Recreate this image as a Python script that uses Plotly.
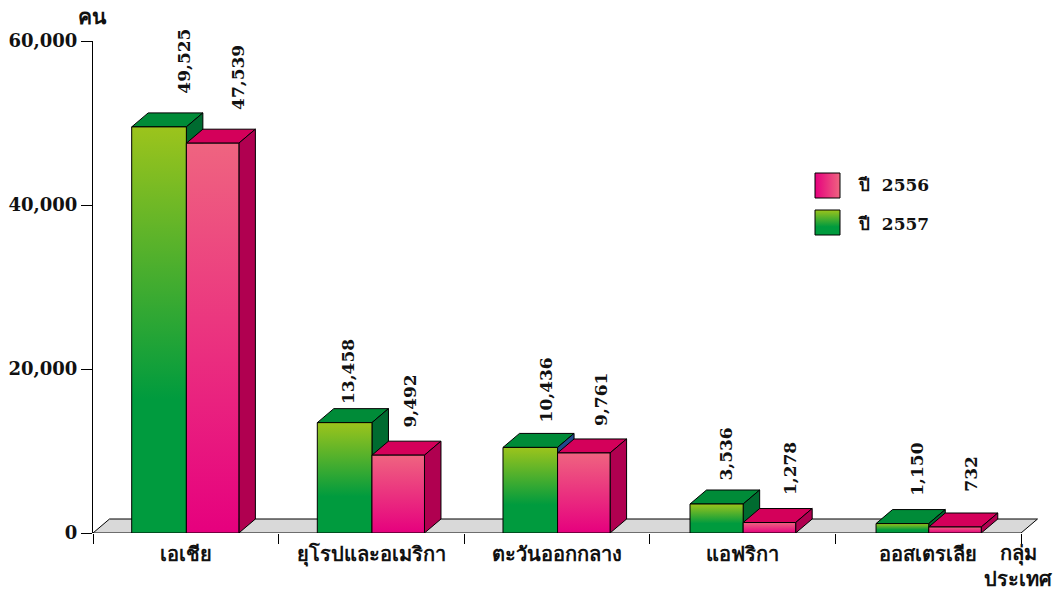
import plotly.graph_objects as go

categories = ["เอเชีย", "ยุโรปและอเมริกา", "ตะวันออกกลาง", "แอฟริกา", "ออสเตรเลีย"]
values_2557 = [49525, 13458, 10436, 3536, 1150]
values_2556 = [47539, 9492, 9761, 1278, 732]
series_names = ["ปี \u00a02556", "ปี \u00a02557"]

# layout nudges (manual placement in the original)
bar_start = [0.2085, 0.2085, 0.209, 0.2166, 0.219]
label_dx_2557 = [25, 3, 15, 9, 15]
label_dx_2556 = [24, 11, 17, 20, 15]
label_gap_2557 = [31, 17, 23, 21, 26]
label_gap_2556 = [31, 26, 25, 25, 33]
side_2557 = ["#006B30", "#006B30", "#1F4A8C", "#006B30", "#006B30"]

W, H = 1056, 592
L, T, B = 93, 41, 59
R = 16
YMAX = 60000
PX_X = 928 / 5
PX_Y = (H - T - B) / YMAX
DX = 16.5 / PX_X
DY = 14 / PX_Y
PLOT_W = W - L - R
PLOT_H = H - T - B

FONT = "'DejaVu Serif', 'Noto Sans', serif"
GREEN = [[0, "#009B3E"], [0.33, "#009B3E"], [1, "#9CC41C"]]
PINK = [[0, "#E6007E"], [1, "#EF6480"]]


def poly(fig, xs, ys, color=None, grad=None, width=1, lc="#000000"):
    kw = dict(fillcolor=color) if color else dict(fillgradient=grad)
    fig.add_trace(go.Scatter(
        x=xs + xs[:1], y=ys + ys[:1], mode="lines", fill="toself",
        line=dict(color=lc, width=width), hoverinfo="skip",
        showlegend=False, cliponaxis=False, **kw))


def bar3d(fig, x0, x1, v, scale, top, side):
    poly(fig, [x0, x0 + DX, x1 + DX, x1], [v, v + DY, v + DY, v], top)
    poly(fig, [x1, x1 + DX, x1 + DX, x1], [0, DY, v + DY, v], side)
    poly(fig, [x0, x1, x1, x0], [0, 0, v, v],
         grad=dict(type="vertical", colorscale=scale))


fig = go.Figure()
n = len(categories)
poly(fig, [0, DX, n + DX, n], [0, DY, DY, 0], "#D9D9D9")

for i in range(n):
    bar3d(fig, i + bar_start[i], i + 0.503, values_2557[i], GREEN, "#008B38", side_2557[i])
    bar3d(fig, i + 0.503, i + 0.786, values_2556[i], PINK, "#D4005A", "#B00050")

ann = []
for i in range(n):
    for v, dx, gap, c in ((values_2557[i], label_dx_2557[i], label_gap_2557[i], i + 0.357),
                          (values_2556[i], label_dx_2556[i], label_gap_2556[i], i + 0.648)):
        ann.append(dict(x=c, y=v, xref="x", yref="y", text=f"{v:,}", textangle=-90,
                        showarrow=False, xanchor="center", yanchor="bottom",
                        xshift=dx, yshift=gap, font=dict(size=17)))

# legend
lx0 = (815 - L) / PX_X
lx1 = (840 - L) / PX_X
for name, ytop, ytext, scale, typ in ((series_names[0], 533 - 173, 533 - 185, PINK, "horizontal"),
                                      (series_names[1], 533 - 210, 533 - 224, GREEN, "vertical")):
    ya = ytop / PX_Y
    yb = (ytop - 25) / PX_Y
    poly(fig, [lx0, lx1, lx1, lx0], [yb, yb, ya, ya], grad=dict(type=typ, colorscale=scale))
    ann.append(dict(x=(856 - L) / PX_X, y=ytext / PX_Y, xref="x", yref="y", text=name,
                    showarrow=False, xanchor="left", yanchor="middle", font=dict(size=17)))

ann.append(dict(xref="paper", yref="paper", x=(92 - L) / PLOT_W, y=1 + (41 - 17) / PLOT_H,
                text="คน", showarrow=False, xanchor="center", yanchor="middle", font=dict(size=21)))
ann.append(dict(xref="paper", yref="paper", x=(1018 - L) / PLOT_W, y=-(566 - 533) / PLOT_H,
                text="กลุ่ม<br>ประเทศ", showarrow=False, xanchor="center", yanchor="middle",
                align="center", font=dict(size=20)))

fig.update_layout(
    width=W, height=H, margin=dict(l=L, r=R, t=T, b=B, pad=0),
    paper_bgcolor="#FFFFFF", plot_bgcolor="#FFFFFF", showlegend=False,
    font=dict(family=FONT, size=18, color="#111111", weight=700),
    annotations=ann,
    xaxis=dict(range=[0, PLOT_W / PX_X], tickmode="array", automargin=False,
               tickvals=[i + 0.5 for i in range(n)],
               ticktext=categories, ticks="", showgrid=False, zeroline=False, showline=False,
               tickfont=dict(size=20), ticklabelstandoff=7,
               minor=dict(tickmode="array", tickvals=list(range(n + 1)), ticks="outside",
                          ticklen=10, tickcolor="#000000", tickwidth=1, showgrid=False)),
    yaxis=dict(range=[0, YMAX], tickmode="array", tickvals=[0, 20000, 40000, 60000], automargin=False,
               tickformat=",", ticks="outside", ticklen=11, tickcolor="#000000", tickwidth=1,
               showgrid=False, zeroline=False, showline=True, linecolor="#000000", linewidth=1),
)
fig.write_html("out.html", config=dict(displayModeBar=False),
               post_script="document.body.style.margin='0';")
